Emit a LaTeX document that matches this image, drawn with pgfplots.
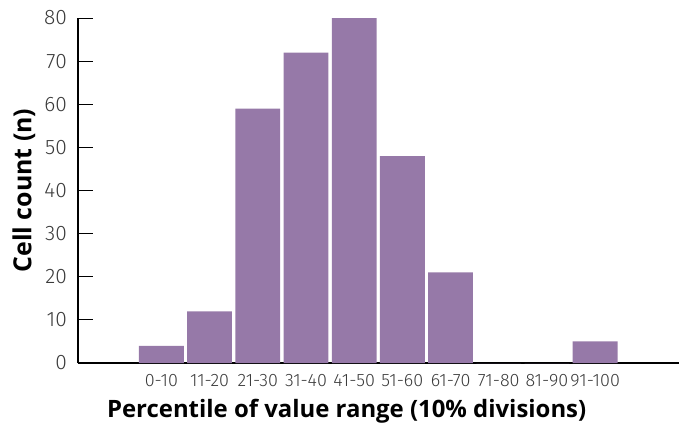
\documentclass[border=0pt]{standalone}
\usepackage{pgfplots}
\pgfplotsset{compat=1.18}
\usepackage{fontspec}
\setmainfont{Open Sans}
\newfontfamily\lightfont{Fira Sans Light}
\definecolor{barpurple}{HTML}{9679A8}
\definecolor{ticktext}{HTML}{3A3A3A}

\begin{document}
\begin{tikzpicture}
\begin{axis}[
    scale only axis,
    width=601bp, height=345bp,
    ybar, bar width=0.93,
    xmin=-1.73, xmax=10.74,
    ymin=0, ymax=80,
    ytick={0,10,...,80},
    xtick={0,...,9},
    xticklabels={0-10,11-20,21-30,31-40,41-50,51-60,61-70,71-80,81-90,91-100},
    axis lines*=left,
    axis line style={line width=1.3pt},
    x axis line style={-}, y axis line style={-},
    major x tick style={draw=none},
    major y tick style={line width=1pt, black},
    major tick length=15bp,
    tick align=inside,
    /pgf/number format/assume math mode=true,
    yticklabel style={font=\lightfont\fontsize{21}{23}\selectfont, text=ticktext, inner sep=0pt, anchor=east, xshift=-11bp},
    xticklabel style={font=\lightfont\fontsize{18}{20}\selectfont, text=ticktext, anchor=center, yshift=-18bp},
    xlabel={Percentile of value range (10\% divisions)},
    ylabel={Cell count (n)},
    xlabel style={font=\bfseries\fontsize{24}{27}\selectfont, at={(axis description cs:0.447,-0.14)}, anchor=center},
    ylabel style={font=\bfseries\fontsize{25}{28}\selectfont, at={(axis description cs:-0.09,0.5)}, anchor=center},
    clip=false,
]
\addplot[fill=barpurple, draw=none] coordinates {
(0,4) (1,12) (2,59) (3,72) (4,80) (5,48) (6,21) (7,0) (8,0) (9,5)
};
\end{axis}
\pgfresetboundingbox
\useasboundingbox ([shift={(-78bp,-63bp)}]current axis.south west) rectangle ++(686bp,426bp);
\end{tikzpicture}
\end{document}
